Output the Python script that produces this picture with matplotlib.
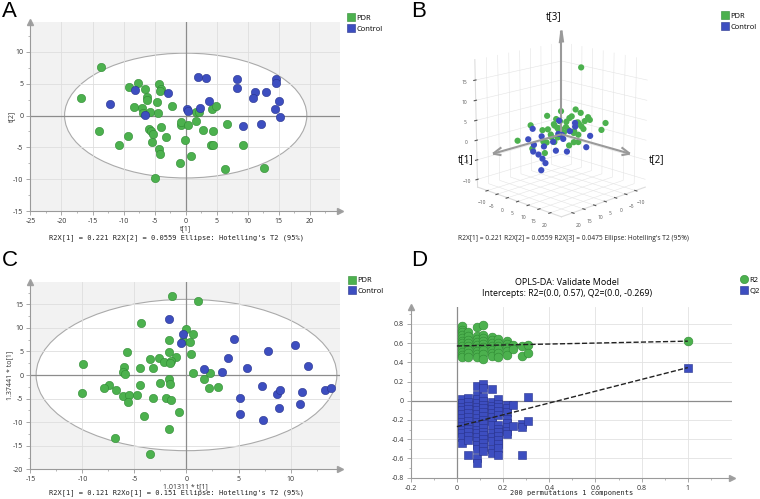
import matplotlib
matplotlib.use("Agg")
import matplotlib.pyplot as plt
import numpy as np
from matplotlib.patches import Ellipse
from matplotlib.lines import Line2D
from matplotlib.ticker import AutoMinorLocator, FixedLocator

GREEN = '#4cb14e'
GREEN_E = '#2f8a33'
BLUE = '#3d4ec0'
BLUE_E = '#28338c'

# ---- panel A : PCA scores t[1] / t[2]
pdr_t1 = [-13.7, -16.9, -9.2, -7.7, -6.5, -6.3, -6.2, -4.3, -4.0, -4.1, -4.6, -8.4,
          -7.0, -6.9, -5.7, -4.5, -2.2, -13.9, -9.3, -10.7, -5.9, -5.6, -5.3, -5.4,
          -4.0, -3.1, -4.3, -4.2, -4.9, -0.8, -0.8, 0.35, 1.6, -0.15, 0.8, -0.9,
          1.6, 2.1, 4.3, 4.85, 2.8, 4.4, 4.0, 4.4, 6.6, 6.4, 9.2, 12.6]
pdr_t2 = [7.65, 2.8, 4.5, 5.1, 4.1, 2.95, 2.4, 5.0, 4.1, 3.8, 2.2, 1.3,
          1.2, 0.35, 0.5, 0.45, 1.5, -2.4, -3.2, -4.6, -2.05, -2.5, -2.9, -4.2,
          -1.8, -3.3, -5.3, -6.1, -9.8, -1.5, -1.0, -1.5, -0.9, -3.8, -6.4, -7.5,
          0.55, 0.6, 1.1, 1.5, -2.3, -2.4, -4.7, -4.7, -1.3, -8.4, -4.7, -8.3]
ctl_t1 = [-12.2, -8.1, -6.5, -2.9, 0.2, 0.45, 2.0, 3.3, 2.3, 3.8, 8.3, 8.2,
          11.2, 10.9, 12.9, 14.5, 14.5, 15.1, 14.3, 15.2, 9.3, 12.1]
ctl_t2 = [1.85, 3.95, 0.14, 3.6, 1.07, 0.7, 6.0, 5.9, 1.2, 2.3, 5.7, 4.3,
          3.7, 2.7, 3.7, 5.7, 5.1, 2.3, 1.1, -0.3, -1.6, -1.4]
# ---- panel B : third component (estimated)
pdr_t3 = [2, -1, 3, 4, 1, 5, 2, 17, -2, 3, 6, 1, -1, 2, 0, 4, -3, 1, -4, -2, 3, 0, 2, -1,
          1, 5, -2, 0, -3, 3, 1, -1, 4, 2, -3, 0, 1, 2, 3, -1, 0, 5, -2, 1, -4, 2, -3, -1]
ctl_t3 = [-2, -4, 1, 3, -1, 0, 2, -3, 4, 1, -2, 0, -5, -1, 2, -3, -6, 0, -2, 1, -4, 3]

# ---- panel C : OPLS-DA scores
pdr_tp = [-1.35, 1.12, -4.4, -0.03, 0.67, -1.67, -0.35, 0.32, -5.7, -1.7, 0.48, -0.96,
          -3.5, -2.6, -2.2, -1.5, -1.6, -9.9, -6.0, -6.06, -5.9, -4.5, -3.2, 0.67,
          2.3, 1.7, -1.7, -1.6, -2.5, -4.5, -7.4, -7.9, -6.8, 2.2, 3.0, -10.0,
          -6.06, -5.5, -4.8, -5.6, -3.2, -1.96, -1.47, -0.74, -4.1, -1.7, -6.9, -3.5]
pdr_to = [16.8, 15.7, 11.0, 9.8, 8.8, 7.4, 7.2, 7.1, 4.9, 4.9, 4.5, 3.9,
          3.3, 3.7, 2.8, 3.0, 2.6, 2.3, 1.6, 0.64, 0.28, 1.4, 1.4, 0.5,
          0.35, -0.8, -0.8, -1.8, -1.7, -2.05, -2.2, -2.7, -3.1, -2.7, -2.5, -3.9,
          -4.5, -4.3, -4.3, -5.8, -4.8, -4.8, -5.4, -7.85, -8.6, -11.5, -13.4, -16.8]
ctl_tp = [-1.67, -0.32, -0.51, 4.58, 3.97, 7.8, 10.45, 11.67, 5.8, 1.73, 3.43,
          7.24, 5.1, 5.1, 7.4, 8.7, 8.94, 8.88, 11.1, 10.9, 13.3, 13.9]
ctl_to = [11.8, 8.6, 6.8, 7.6, 3.7, 5.2, 6.3, 2.0, 1.5, 1.3, 0.64,
          -2.3, -4.95, -8.3, -9.5, -4.1, -3.2, -7.0, -3.5, -6.1, -3.2, -2.7]

# ---- panel D : permutation test (per correlation column)
perm_x = [0.02, 0.05, 0.085, 0.115, 0.15, 0.18, 0.215, 0.245, 0.28, 0.31]
perm_r2 = [[0.78, 0.74, 0.71, 0.68, 0.65, 0.62, 0.60, 0.57, 0.54, 0.51, 0.48, 0.46],
           [0.71, 0.67, 0.63, 0.60, 0.57, 0.53, 0.50, 0.46],
           [0.77, 0.67, 0.64, 0.61, 0.58, 0.55, 0.52, 0.49, 0.46],
           [0.79, 0.68, 0.65, 0.62, 0.59, 0.56, 0.53, 0.49, 0.43],
           [0.66, 0.63, 0.60, 0.57, 0.53, 0.50, 0.47],
           [0.64, 0.60, 0.57, 0.54, 0.50, 0.45],
           [0.62, 0.59, 0.56, 0.52, 0.48],
           [0.58, 0.54],
           [0.57, 0.47],
           [0.58, 0.50]]
perm_q2 = [[0.02, -0.02, -0.06, -0.10, -0.14, -0.18, -0.22, -0.26, -0.30, -0.34, -0.38, -0.44],
           [0.03, -0.01, -0.05, -0.09, -0.13, -0.17, -0.21, -0.25, -0.29, -0.33, -0.37, -0.41, -0.56],
           [0.15, 0.06, 0.02, -0.02, -0.06, -0.10, -0.14, -0.18, -0.22, -0.26, -0.30, -0.34,
            -0.38, -0.42, -0.46, -0.50, -0.60, -0.65],
           [0.17, 0.13, 0.04, 0.00, -0.04, -0.08, -0.12, -0.16, -0.20, -0.24, -0.28, -0.32,
            -0.36, -0.40, -0.44, -0.48, -0.52],
           [0.12, -0.01, -0.05, -0.09, -0.13, -0.17, -0.21, -0.25, -0.34, -0.38, -0.42, -0.50, -0.54],
           [0.02, -0.03, -0.07, -0.11, -0.15, -0.25, -0.29, -0.33, -0.37, -0.41, -0.45, -0.49, -0.56],
           [-0.04, -0.08, -0.12, -0.19, -0.23, -0.27, -0.31, -0.35],
           [-0.04, -0.26],
           [-0.24, -0.27, -0.56],
           [0.04, -0.21]]
model_r2 = 0.62
model_q2 = 0.345
r2_intercept = 0.57
q2_intercept = -0.269

plt.rcParams['font.family'] = ['Open Sans', 'DejaVu Sans']

fig = plt.figure(figsize=(7.6, 4.99), dpi=100)


def fmt(v):
    v = round(v, 3)
    return '0' if v == 0 else '{:g}'.format(v)


def style_axes(ax, xt, yt, bg='#f2f2f2'):
    ax.set_facecolor(bg)
    for s in ['top', 'right']:
        ax.spines[s].set_visible(False)
    for s in ['left', 'bottom']:
        ax.spines[s].set_color('#9a9a9a')
        ax.spines[s].set_linewidth(0.8)
    ax.xaxis.set_major_locator(FixedLocator(xt))
    ax.yaxis.set_major_locator(FixedLocator(yt))
    ax.set_xticklabels([fmt(v) for v in xt])
    ax.set_yticklabels([fmt(v) for v in yt])
    ax.xaxis.set_minor_locator(AutoMinorLocator(2))
    ax.yaxis.set_minor_locator(AutoMinorLocator(2))
    ax.tick_params(which='major', length=3, width=0.6, color='#9a9a9a',
                   labelsize=5, labelcolor='#333333', pad=2)
    ax.tick_params(which='minor', length=1.5, width=0.5, color='#9a9a9a')
    ax.grid(True, color='#dedede', lw=0.6)
    ax.set_axisbelow(True)
    ax.axhline(0, color='#8c8c8c', lw=0.9, zorder=1)
    ax.axvline(0, color='#8c8c8c', lw=0.9, zorder=1)
    ax.plot(1, 0, marker='>', ms=5, color='#a0a0a0', transform=ax.transAxes, clip_on=False)
    ax.plot(0, 1, marker='^', ms=5, color='#a0a0a0', transform=ax.transAxes, clip_on=False)


def group_legend(labels, markers, anchor):
    handles = [Line2D([], [], ls='none', marker=markers[0], ms=6, mfc=GREEN, mec=GREEN_E, mew=0.4),
               Line2D([], [], ls='none', marker=markers[1], ms=6, mfc=BLUE, mec=BLUE_E, mew=0.4)]
    fig.legend(handles, labels, loc='upper left', bbox_to_anchor=anchor, frameon=False,
               fontsize=5.5, handlelength=1.0, handletextpad=0.2, borderpad=0,
               borderaxespad=0, labelspacing=0.45)


mono = 'DejaVu Sans Mono'

# ---------------- A
axA = fig.add_axes([0.040, 0.577, 0.407, 0.379])
style_axes(axA, [-25, -20, -15, -10, -5, 0, 5, 10, 15, 20], [-15, -10, -5, 0, 5, 10])
axA.add_patch(Ellipse((0, 0), 2 * 19.5, 2 * 9.8, fc='white', ec='#aaaaaa', lw=0.8, zorder=0.4))
axA.scatter(pdr_t1, pdr_t2, s=36, c=GREEN, edgecolors=GREEN_E, linewidths=0.4, zorder=3)
axA.scatter(ctl_t1, ctl_t2, s=36, c=BLUE, edgecolors=BLUE_E, linewidths=0.4, zorder=3)
axA.set_xlim(-25, 24.8)
axA.set_ylim(-15, 14.7)
axA.set_xlabel('t[1]', fontsize=5, labelpad=0, color='#333333')
axA.set_ylabel('t[2]', fontsize=5, color='#333333')
axA.yaxis.set_label_coords(-0.05, 0.5)
fig.text(0.232, 0.523, "R2X[1] = 0.221 R2X[2] = 0.0559 Ellipse: Hotelling's T2 (95%)",
         fontsize=5, family=mono, ha='center', va='center', color='#222222')
group_legend(['PDR', 'Control'], ['s', 's'], (0.457, 0.971))

# ---------------- B (3D)
axB = fig.add_axes([0.585, 0.535, 0.30, 0.42], projection='3d')
axB.view_init(elev=16, azim=45)
axB.set_box_aspect((1, 1, 1.1))
axB.scatter(pdr_t1, pdr_t2, pdr_t3, s=20, c=GREEN, edgecolors='none', depthshade=False)
axB.scatter(ctl_t1, ctl_t2, ctl_t3, s=20, c=BLUE, edgecolors='none', depthshade=False)
axB.set_xlim(-15, 25)
axB.set_ylim(-15, 25)
axB.set_zlim(-12, 20)
for a in [axB.xaxis, axB.yaxis, axB.zaxis]:
    a.set_pane_color((1, 1, 1, 1))
    a._axinfo['grid']['color'] = '#e4e4e4'
    a._axinfo['grid']['linewidth'] = 0.4
    a.line.set_color('#dddddd')
    a.set_tick_params(labelsize=3.5, colors='#555555', pad=-3)
axB.set_xticks([-10, -5, 0, 5, 10, 15, 20])
axB.set_yticks([-10, -5, 0, 5, 10, 15, 20])
axB.set_zticks([-10, -5, 0, 5, 10, 15])
axB.quiver(0, 0, 0, 31, 0, 0, color='#9a9a9a', lw=1.5, arrow_length_ratio=0.12)
axB.quiver(0, 0, 0, 0, 31, 0, color='#9a9a9a', lw=1.5, arrow_length_ratio=0.12)
axB.quiver(0, 0, 0, 0, 0, 26, color='#9a9a9a', lw=1.5, arrow_length_ratio=0.12)
axB.text(34, -6, -2, 't[1]', fontsize=7, ha='right', va='center')
axB.text(-6, 34, -2, 't[2]', fontsize=7, ha='left', va='center')
axB.text(0, 0, 28, 't[3]', fontsize=7, ha='right', va='bottom')
fig.text(0.754, 0.523,
         "R2X[1] = 0.221 R2X[2] = 0.0559 R2X[3] = 0.0475 Ellipse: Hotelling's T2 (95%)",
         fontsize=4.8, ha='center', va='center', color='#222222')
group_legend(['PDR', 'Control'], ['s', 's'], (0.949, 0.975))

# ---------------- C
axC = fig.add_axes([0.040, 0.0595, 0.408, 0.376])
style_axes(axC, [-15, -10, -5, 0, 5, 10], [-20, -15, -10, -5, 0, 5, 10, 15])
axC.add_patch(Ellipse((0, 0), 2 * 14.45, 2 * 16.05, fc='white', ec='#aaaaaa', lw=0.8, zorder=0.4))
axC.scatter(pdr_tp, pdr_to, s=36, c=GREEN, edgecolors=GREEN_E, linewidths=0.4, zorder=3)
axC.scatter(ctl_tp, ctl_to, s=36, c=BLUE, edgecolors=BLUE_E, linewidths=0.4, zorder=3)
axC.set_xlim(-15, 14.8)
axC.set_ylim(-20, 19.8)
axC.set_xlabel('1.01311 * t[1]', fontsize=5, labelpad=0, color='#333333')
axC.set_ylabel('1.37441 * to[1]', fontsize=5, color='#333333')
axC.yaxis.set_label_coords(-0.055, 0.5)
fig.text(0.232, 0.006, "R2X[1] = 0.121 R2Xo[1] = 0.151 Ellipse: Hotelling's T2 (95%)",
         fontsize=5, family=mono, ha='center', va='bottom', color='#222222')
group_legend(['PDR', 'Control'], ['s', 's'], (0.458, 0.445))

# ---------------- D
axD = fig.add_axes([0.5404, 0.0427, 0.4224, 0.343])
style_axes(axD, [-0.2, 0, 0.2, 0.4, 0.6, 0.8, 1.0],
           [-0.8, -0.6, -0.4, -0.2, 0, 0.2, 0.4, 0.6, 0.8], bg='white')
axD.grid(True, color='#e2e2e2', lw=0.6)
for x, col in zip(perm_x, perm_r2):
    axD.scatter([x] * len(col), col, s=40, marker='o', c=GREEN, edgecolors=GREEN_E,
                linewidths=0.4, zorder=3)
for x, col in zip(perm_x, perm_q2):
    axD.scatter([x] * len(col), col, s=34, marker='s', c=BLUE, edgecolors=BLUE_E,
                linewidths=0.4, zorder=3)
axD.scatter([1], [model_r2], s=40, marker='o', c=GREEN, edgecolors=GREEN_E, linewidths=0.4, zorder=3)
axD.scatter([1], [model_q2], s=34, marker='s', c=BLUE, edgecolors=BLUE_E, linewidths=0.4, zorder=3)
axD.plot([0, 1], [r2_intercept, model_r2], ls='--', color='#222222', lw=1, zorder=4)
axD.plot([0, 1], [q2_intercept, model_q2], ls='--', color='#222222', lw=1, zorder=4)
axD.set_xlim(-0.2, 1.19)
axD.set_ylim(-0.8, 0.98)
axD.set_xlabel('200 permutations 1 components', fontsize=5, family=mono, labelpad=-1,
               color='#222222')
fig.text(0.7457, 0.434, 'OPLS-DA: Validate Model', fontsize=6.5, ha='center', va='center')
fig.text(0.7457, 0.411, 'Intercepts: R2=(0.0, 0.57), Q2=(0.0, -0.269)', fontsize=6.3,
         ha='center', va='center')
group_legend(['R2', 'Q2'], ['o', 's'], (0.974, 0.446))

# panel letters
for lab, x, y in [('A', 0.002, 0.998), ('B', 0.541, 0.998), ('C', 0.002, 0.498), ('D', 0.541, 0.498)]:
    fig.text(x, y, lab, fontsize=16, family='Liberation Sans', ha='left', va='top')

fig.savefig('out.png', dpi=100)
